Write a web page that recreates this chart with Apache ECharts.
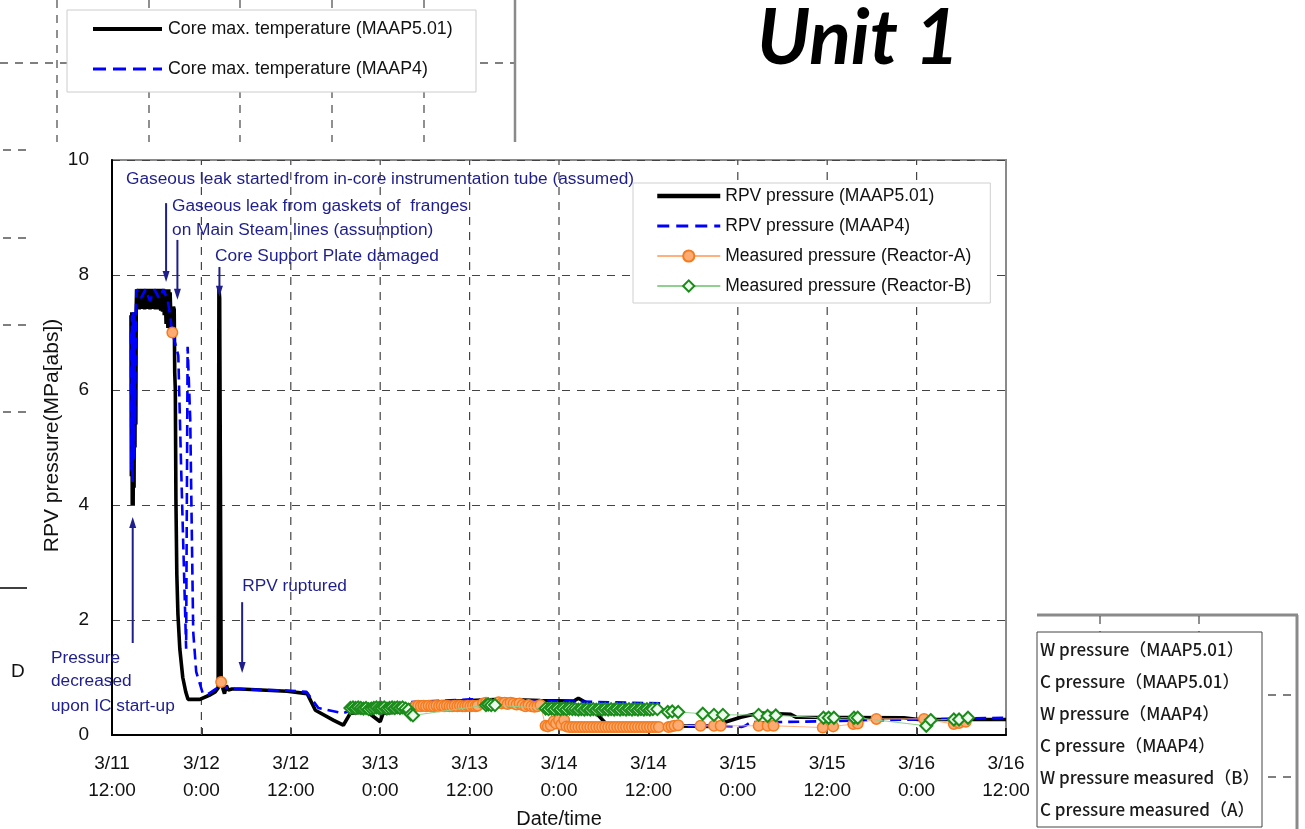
<!DOCTYPE html>
<html>
<head>
<meta charset="utf-8">
<script src="https://cdn.jsdelivr.net/npm/echarts@6/dist/echarts.min.js"></script>
<style>
html,body{margin:0;padding:0;background:#fff;}
#chart{width:1305px;height:829px;}
</style>
</head>
<body>
<div id="chart"></div>
<script>
// Time is counted in hours from 3/11 0:00.
const xTickHours = [12, 24, 36, 48, 60, 72, 84, 96, 108, 120, 132];
const xTickLabels = ['3/11\n12:00', '3/12\n0:00', '3/12\n12:00', '3/13\n0:00', '3/13\n12:00',
  '3/14\n0:00', '3/14\n12:00', '3/15\n0:00', '3/15\n12:00', '3/16\n0:00', '3/16\n12:00'];
// vertical dashed grid lines (none drawn at 3/14 0:00)
const xGridHours = [24, 36, 48, 60, 72, 96, 108, 120];
const yTicks = [0, 2, 4, 6, 8, 10];

// RPV pressure, MAAP5.01 [hour, MPa abs]
const rpvMaap501 = [
  [14.55, 7.30], [14.60, 4.50], [14.66, 7.35], [14.72, 4.00], [14.78, 7.30], [14.84, 4.00],
  [14.90, 7.35], [14.96, 4.30], [15.02, 7.35], [15.08, 5.00], [15.14, 7.35], [15.20, 5.40],
  [15.25, 7.40], [15.30, 7.75], [15.42, 7.42], [15.54, 7.76], [15.66, 7.40], [15.78, 7.75],
  [15.90, 7.41], [16.02, 7.76], [16.14, 7.42], [16.26, 7.75], [16.38, 7.40], [16.50, 7.76],
  [16.62, 7.41], [16.74, 7.75], [16.86, 7.42], [16.98, 7.76], [17.10, 7.40], [17.22, 7.75],
  [17.34, 7.41], [17.46, 7.76], [17.58, 7.42], [17.70, 7.75], [17.82, 7.40], [17.94, 7.76],
  [18.06, 7.41], [18.18, 7.75], [18.30, 7.40], [18.42, 7.76], [18.54, 7.38], [18.66, 7.75],
  [18.78, 7.36], [18.90, 7.76], [19.02, 7.30], [19.14, 7.75], [19.26, 7.15], [19.38, 7.75],
  [19.50, 7.08], [19.62, 7.75], [19.74, 7.05], [19.80, 7.70], [19.95, 7.05], [20.10, 7.00],
  [20.25, 7.45], [20.35, 7.40], [20.42, 6.30], [20.50, 6.00], [20.58, 4.10], [20.70, 2.80],
  [20.85, 2.10], [21.10, 1.50], [21.50, 1.00], [21.90, 0.75], [22.20, 0.62], [23.80, 0.62],
  [25.20, 0.70], [25.85, 0.75], [26.25, 0.82], [26.35, 7.78], [26.45, 7.60], [26.55, 4.50],
  [26.65, 1.00], [26.90, 0.80], [27.10, 0.72], [27.35, 0.86], [27.60, 0.78], [28.10, 0.80],
  [29.20, 0.80], [35.50, 0.76], [38.20, 0.72], [39.30, 0.43], [41.70, 0.26], [43.05, 0.17],
  [44.00, 0.38], [46.30, 0.40], [48.00, 0.23], [48.40, 0.38], [50.70, 0.40], [51.65, 0.49],
  [52.50, 0.56], [60.10, 0.60], [64.20, 0.62], [69.50, 0.60], [74.00, 0.59], [74.60, 0.64],
  [75.80, 0.55], [78.50, 0.17], [84.30, 0.16], [92.80, 0.15], [93.70, 0.20], [96.40, 0.31],
  [98.80, 0.38], [103.10, 0.36], [103.80, 0.31], [118.30, 0.30], [120.20, 0.27], [132.00, 0.27]
];

// RPV pressure, MAAP4 [hour, MPa abs]
const rpvMaap4 = [
  [14.55, 7.00], [14.60, 4.60], [14.68, 7.30], [14.76, 4.40], [14.84, 7.35], [14.92, 4.80],
  [15.00, 7.30], [15.10, 5.40], [15.20, 7.35], [15.30, 7.75], [15.90, 7.60], [16.50, 7.75],
  [17.10, 7.55], [17.70, 7.75], [18.30, 7.60], [18.90, 7.75], [19.50, 7.55],
  [19.80, 7.30], [20.10, 7.00], [20.90, 6.60], [21.27, 4.70], [21.95, 1.50], [22.08, 1.50],
  [22.15, 6.75], [22.50, 5.50], [22.90, 1.80], [23.30, 1.10], [24.20, 0.72], [25.00, 0.72],
  [25.90, 0.80], [26.50, 0.85], [26.85, 0.92], [27.30, 0.82], [28.50, 0.80], [36.00, 0.77],
  [38.10, 0.75], [38.90, 0.61], [39.70, 0.47], [43.00, 0.38], [43.50, 0.40], [48.00, 0.49],
  [52.00, 0.57], [60.10, 0.62], [72.00, 0.59], [85.60, 0.55], [86.80, 0.26], [87.50, 0.16],
  [93.70, 0.16], [96.50, 0.14], [97.00, 0.16], [97.80, 0.23], [99.00, 0.22], [108.00, 0.24],
  [120.20, 0.27], [132.00, 0.30]
];

// Measured pressure, Reactor-A ('-' marks a break in the record)
const measuredA = [
  [20.10, 7.00], [23.00, '-'], [26.65, 0.92], [40.00, '-'],
  [52.73, 0.50], [53.10, 0.51], [53.45, 0.50], [53.80, 0.51], [54.15, 0.50], [54.50, 0.51],
  [54.85, 0.50], [55.20, 0.50], [55.55, 0.51], [55.90, 0.50], [56.25, 0.51], [56.60, 0.50],
  [56.95, 0.51], [57.30, 0.50], [57.65, 0.50], [58.00, 0.51], [58.35, 0.50], [58.70, 0.51],
  [59.05, 0.50], [59.40, 0.50], [59.75, 0.51], [60.10, 0.50], [60.45, 0.51], [60.80, 0.50],
  [61.06, 0.51], [61.80, 0.55], [62.20, 0.56], [63.90, 0.57], [64.30, 0.55], [64.70, 0.56],
  [65.10, 0.54], [65.50, 0.56], [65.90, 0.55], [66.30, 0.53], [66.70, 0.55], [67.10, 0.52],
  [67.50, 0.50], [67.90, 0.52], [68.30, 0.50], [68.70, 0.49], [69.10, 0.50], [69.50, 0.52],
  [70.20, 0.16], [70.50, 0.15], [70.90, 0.17], [71.30, 0.24], [71.60, 0.20], [72.00, 0.26],
  [72.30, 0.18], [72.70, 0.26], [73.00, 0.15], [73.40, 0.14], [73.80, 0.14], [74.20, 0.14],
  [74.60, 0.14], [75.00, 0.14], [75.40, 0.14], [75.80, 0.14], [76.20, 0.14], [76.60, 0.14],
  [77.00, 0.14], [77.40, 0.14], [77.80, 0.14], [78.20, 0.14], [78.60, 0.14], [79.00, 0.14],
  [79.40, 0.14], [79.80, 0.14], [80.20, 0.14], [80.60, 0.14], [81.00, 0.14], [81.40, 0.14],
  [81.80, 0.14], [82.20, 0.14], [82.60, 0.14], [83.00, 0.14], [83.40, 0.14], [83.80, 0.14],
  [84.20, 0.14], [84.60, 0.14], [85.00, 0.14], [85.40, 0.14], [86.70, 0.14], [87.10, 0.15],
  [87.50, 0.16], [88.00, 0.17], [91.00, 0.16], [92.80, 0.16], [93.70, 0.16], [98.80, 0.16],
  [100.00, 0.16], [100.80, 0.16], [107.40, 0.13], [108.80, 0.15], [111.50, 0.19], [112.10, 0.20],
  [114.60, 0.28], [121.00, 0.28], [125.00, 0.19], [125.70, 0.21], [126.60, 0.23]
];

// Measured pressure, Reactor-B
const measuredB = [
  [44.00, 0.47], [44.35, 0.48], [44.70, 0.47], [45.05, 0.48], [45.40, 0.47], [45.75, 0.46],
  [46.10, 0.47], [46.45, 0.45], [46.80, 0.46], [47.15, 0.47], [47.50, 0.48], [47.85, 0.47],
  [48.20, 0.47], [48.55, 0.48], [48.90, 0.46], [49.25, 0.47], [49.60, 0.48], [49.95, 0.47],
  [50.30, 0.48], [50.65, 0.47], [51.00, 0.48], [51.40, 0.46], [51.80, 0.44], [52.10, 0.36],
  [52.40, 0.34], [62.20, 0.52], [62.50, 0.53], [62.90, 0.52], [63.40, 0.52],
  [70.20, 0.46], [70.60, 0.45], [71.00, 0.46], [71.40, 0.45], [71.80, 0.46], [72.20, 0.45],
  [72.60, 0.46], [73.00, 0.45], [73.40, 0.46], [73.80, 0.45], [74.20, 0.45], [74.60, 0.44],
  [75.00, 0.45], [75.40, 0.44], [75.80, 0.45], [76.20, 0.44], [76.60, 0.45], [77.00, 0.44],
  [77.40, 0.45], [77.80, 0.44], [78.20, 0.45], [78.60, 0.44], [79.00, 0.45], [79.40, 0.44],
  [79.80, 0.45], [80.20, 0.44], [80.60, 0.45], [81.00, 0.44], [81.40, 0.45], [81.80, 0.44],
  [82.20, 0.45], [82.60, 0.44], [83.00, 0.45], [83.40, 0.44], [83.80, 0.45], [84.20, 0.44],
  [84.60, 0.45], [85.20, 0.45], [86.60, 0.40], [87.20, 0.41], [88.00, 0.40], [91.30, 0.37],
  [92.80, 0.35], [94.00, 0.35], [98.80, 0.35], [100.00, 0.33], [101.10, 0.34], [107.50, 0.30],
  [108.20, 0.30], [108.90, 0.30], [111.60, 0.30], [112.10, 0.30], [121.30, 0.16], [121.90, 0.26],
  [125.00, 0.27], [125.70, 0.27], [126.90, 0.30]
];

// Event notes: text and anchor [hour, MPa]
const notes = [
  { text: 'Gaseous leak started from in-core instrumentation tube (assumed)', at: [13.88, 9.66] },
  { text: 'Gaseous leak from gaskets of  franges', at: [20.06, 9.20] },
  { text: 'on Main Steam lines (assumption)', at: [20.06, 8.77] },
  { text: 'Core Support Plate damaged', at: [25.84, 8.33] },
  { text: 'RPV ruptured', at: [29.47, 2.58] },
  { text: 'Pressure', at: [3.80, 1.33] },
  { text: 'decreased', at: [3.80, 0.93] },
  { text: 'upon IC start-up', at: [3.80, 0.50] }
];
// Event arrows: from -> to, [hour, MPa]
const arrows = [
  [[19.26, 9.25], [19.26, 7.88]],
  [[20.78, 8.61], [20.78, 7.57]],
  [[26.42, 8.14], [26.42, 7.62]],
  [[29.47, 2.31], [29.47, 1.08]],
  [[14.78, 1.60], [14.78, 3.79]]
];

const NAVY = '#1e1e8c';
const FONT = '"Liberation Sans", Arial, sans-serif';

const chart = echarts.init(document.getElementById('chart'), null, { renderer: 'canvas' });

function tickLabel(v) {
  const i = xTickHours.indexOf(v);
  return i >= 0 ? xTickLabels[i] : '';
}

const option = {
  animation: false,
  backgroundColor: '#fff',
  title: {
    text: 'Unit 1',
    left: 752, top: -4,
    textStyle: { fontSize: 77, fontStyle: 'italic', fontWeight: 'bold', fontFamily: 'Lato, "Open Sans", sans-serif', color: '#000' }
  },
  grid: {
    left: 112, right: 299, top: 160, bottom: 94,
    outerBoundsMode: 'none', containLabel: false,
    show: true, borderColor: '#8a8a8a', borderWidth: 2, backgroundColor: 'transparent'
  },
  legend: {
    orient: 'vertical',
    left: 633, top: 183,
    padding: [4, 19, 8, 22],
    itemWidth: 63, itemHeight: 14, itemGap: 12,
    backgroundColor: '#fff', borderColor: '#cfcfcf', borderWidth: 1,
    textStyle: { fontSize: 17.5, fontFamily: FONT, color: '#111' },
    data: [
      { name: 'RPV pressure (MAAP5.01)', itemStyle: { opacity: 0 }, lineStyle: { width: 4.5, color: '#000' } },
      { name: 'RPV pressure (MAAP4)', itemStyle: { opacity: 0 }, lineStyle: { width: 3, color: '#0000ff', type: [12, 7] } },
      { name: 'Measured pressure (Reactor-A)' },
      { name: 'Measured pressure (Reactor-B)' }
    ]
  },
  xAxis: {
    type: 'value', min: 12, max: 132, interval: 12,
    name: 'Date/time', nameLocation: 'middle', nameGap: 74,
    nameTextStyle: { fontSize: 20, fontFamily: FONT, color: '#111' },
    axisLine: { show: true, lineStyle: { color: '#000', width: 2 } },
    axisTick: { show: true, inside: true, length: 7, lineStyle: { color: '#000', width: 1.5 } },
    axisLabel: { fontSize: 19, fontFamily: FONT, color: '#111', lineHeight: 27, margin: 15, formatter: tickLabel },
    splitLine: { show: false }
  },
  yAxis: {
    type: 'value', min: 0, max: 10, interval: 2,
    name: 'RPV pressure(MPa[abs])', nameLocation: 'middle', nameGap: 49, nameMoveOverlap: false,
    nameTextStyle: { fontSize: 21, fontFamily: FONT, color: '#111', padding: [0, 0, 0, 24] },
    axisLine: { show: true, lineStyle: { color: '#000', width: 2 } },
    axisTick: { show: false },
    axisLabel: { fontSize: 19, fontFamily: FONT, color: '#111', margin: 23,
      formatter: v => yTicks.indexOf(v) >= 0 ? String(v) : '' },
    splitLine: { show: true, lineStyle: { color: '#444', width: 1.2, type: [8, 7] } }
  },
  series: [
    {
      name: 'RPV pressure (MAAP5.01)', type: 'line', data: rpvMaap501,
      symbol: 'none', z: 3,
      color: '#000',
      lineStyle: { color: '#000', width: 3.6 }
    },
    {
      name: 'RPV pressure (MAAP4)', type: 'line', data: rpvMaap4,
      symbol: 'none', z: 4,
      color: '#0000ff',
      lineStyle: { color: '#0000ff', width: 2.6, type: [11, 6] }
    },
    {
      name: 'Measured pressure (Reactor-A)', type: 'line', data: measuredA,
      symbol: 'circle', symbolSize: 10.5, showAllSymbol: true, z: 5,
      color: '#f47c20',
      lineStyle: { color: '#ffb07c', width: 1 },
      itemStyle: { color: '#fcac72', borderColor: '#f47c20', borderWidth: 1.5 }
    },
    {
      name: 'Measured pressure (Reactor-B)', type: 'line', data: measuredB,
      symbol: 'diamond', symbolSize: 12, showAllSymbol: true, z: 6,
      color: '#1a8c1a',
      lineStyle: { color: '#8fd08f', width: 1 },
      itemStyle: { color: '#eefaee', borderColor: '#1a8c1a', borderWidth: 2 }
    }
  ]
};

chart.setOption(option);

// ---- overlay drawing: grid lines, event notes, arrows, neighbouring panels ----
function px(p) { return chart.convertToPixel({ xAxisIndex: 0, yAxisIndex: 0 }, p); }
const els = [];

// vertical dashed grid lines
xGridHours.forEach(h => {
  const a = px([h, 0]), b = px([h, 10]);
  els.push({ type: 'line', z: 1, silent: true,
    shape: { x1: a[0], y1: a[1], x2: b[0], y2: b[1] },
    style: { stroke: '#444', lineWidth: 1.2, lineDash: [8, 7] } });
});

// notes
notes.forEach(n => {
  const p = px(n.at);
  els.push({ type: 'text', z: 10, x: p[0], y: p[1],
    style: { text: n.text, fill: NAVY, font: '17.3px ' + FONT, verticalAlign: 'middle' } });
});

// arrows
arrows.forEach(a => {
  const p1 = px(a[0]), p2 = px(a[1]);
  const dir = p2[1] > p1[1] ? 1 : -1;
  const head = 11, half = 3.5;
  els.push({ type: 'line', z: 10,
    shape: { x1: p1[0], y1: p1[1], x2: p2[0], y2: p2[1] - dir * head * 0.7 },
    style: { stroke: NAVY, lineWidth: 2 } });
  els.push({ type: 'polygon', z: 10,
    shape: { points: [[p2[0], p2[1]], [p2[0] - half, p2[1] - dir * head], [p2[0] + half, p2[1] - dir * head]] },
    style: { fill: NAVY } });
});

// panel behind, upper left
const dashStyle = { stroke: '#555', lineWidth: 1.3, lineDash: [8, 7] };
[57, 149, 240, 332, 424].forEach(x => {
  els.push({ type: 'line', z: 0, shape: { x1: x, y1: 0, x2: x, y2: 142 }, style: dashStyle });
});
els.push({ type: 'line', z: 0, shape: { x1: 0, y1: 63, x2: 514, y2: 63 }, style: dashStyle });
[150, 238, 325, 412].forEach(y => {
  els.push({ type: 'line', z: 0, shape: { x1: 3, y1: y, x2: 26, y2: y }, style: dashStyle });
});
els.push({ type: 'line', z: 0, shape: { x1: 515, y1: 0, x2: 515, y2: 142 }, style: { stroke: '#8a8a8a', lineWidth: 2.5 } });
els.push({ type: 'line', z: 0, shape: { x1: 0, y1: 588, x2: 27, y2: 588 }, style: { stroke: '#000', lineWidth: 1.5 } });
els.push({ type: 'text', z: 0, x: 11, y: 672, style: { text: 'D', font: '19px ' + FONT, fill: '#111', verticalAlign: 'middle' } });
els.push({ type: 'rect', z: 1, shape: { x: 67, y: 10, width: 409, height: 82 }, style: { fill: '#fff', stroke: '#cccccc', lineWidth: 1 } });
els.push({ type: 'line', z: 2, shape: { x1: 93, y1: 29, x2: 162, y2: 29 }, style: { stroke: '#000', lineWidth: 4 } });
els.push({ type: 'line', z: 2, shape: { x1: 93, y1: 69, x2: 162, y2: 69 }, style: { stroke: '#0000ff', lineWidth: 3, lineDash: [13, 7] } });
els.push({ type: 'text', z: 2, x: 168, y: 29, style: { text: 'Core max. temperature (MAAP5.01)', font: '17.8px ' + FONT, fill: '#111', verticalAlign: 'middle' } });
els.push({ type: 'text', z: 2, x: 168, y: 69, style: { text: 'Core max. temperature (MAAP4)', font: '17.8px ' + FONT, fill: '#111', verticalAlign: 'middle' } });

// panel behind, lower right
els.push({ type: 'line', z: 0, shape: { x1: 1037, y1: 615, x2: 1298, y2: 615 }, style: { stroke: '#8a8a8a', lineWidth: 3 } });
els.push({ type: 'line', z: 0, shape: { x1: 1297, y1: 615, x2: 1297, y2: 829 }, style: { stroke: '#8a8a8a', lineWidth: 3 } });
[1100, 1199].forEach(x => {
  els.push({ type: 'line', z: 0, shape: { x1: x, y1: 616, x2: x, y2: 632 }, style: dashStyle });
});
[695, 777].forEach(y => {
  els.push({ type: 'line', z: 0, shape: { x1: 1268, y1: y, x2: 1294, y2: y }, style: dashStyle });
});
els.push({ type: 'rect', z: 1, shape: { x: 1037, y: 632, width: 225, height: 195 }, style: { fill: '#fff', stroke: '#444', lineWidth: 1 } });
['W pressure（MAAP5.01）', 'C pressure（MAAP5.01）', 'W pressure（MAAP4）', 'C pressure（MAAP4）',
 'W pressure measured（B）', 'C pressure measured（A）'].forEach((t, i) => {
  els.push({ type: 'text', z: 2, x: 1040, y: 650 + i * 32,
    style: { text: t, font: '500 17px "Noto Sans CJK JP", sans-serif', fill: '#1a1a1a', verticalAlign: 'middle' } });
});

chart.setOption({ graphic: els });
</script>
</body>
</html>
